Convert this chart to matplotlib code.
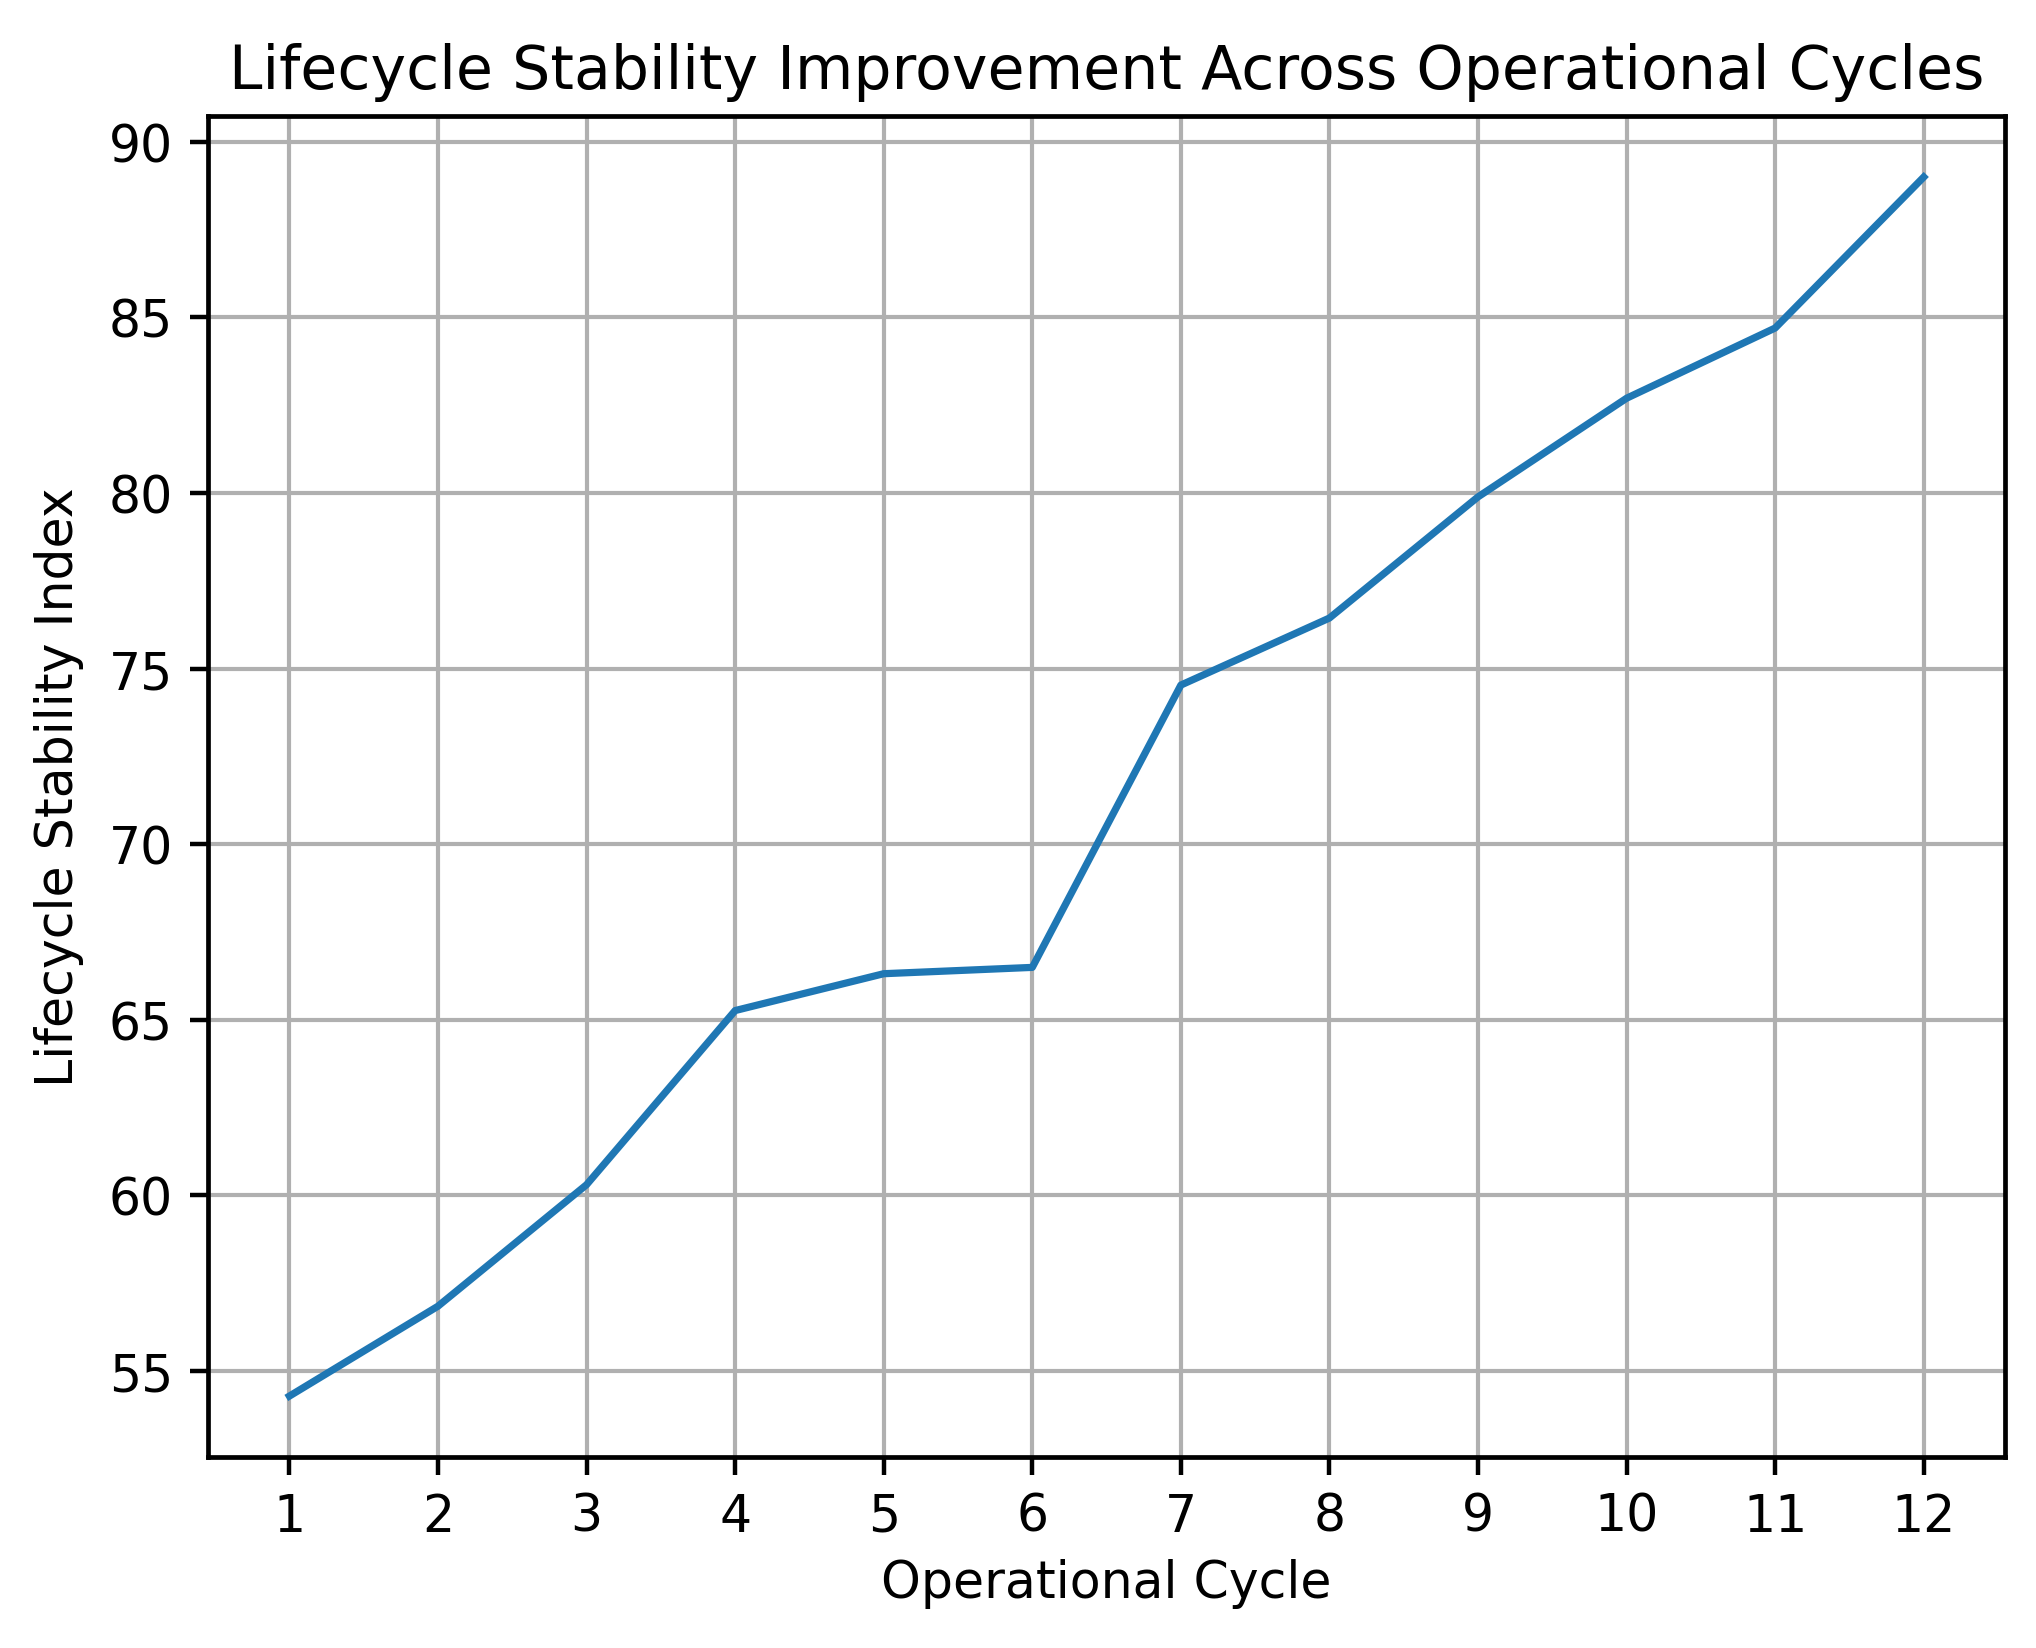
#!/usr/bin/env python3
import numpy as np
from matplotlib import pyplot as plt

# values
cycles = [1, 2, 3, 4, 5, 6, 7, 8, 9, 10, 11, 12]
stability_index = [54.28, 56.84, 60.30, 65.26, 66.31, 66.49, 74.53, 76.44, 79.89, 82.70, 84.70, 89.00]

title = "Lifecycle Stability Improvement Across Operational Cycles"
x_label = "Operational Cycle"
y_label = "Lifecycle Stability Index"

fig, ax = plt.subplots(figsize=(20.36, 16.49), dpi=100)
fig.subplots_adjust(left=0.102, right=0.985, top=0.929, bottom=0.1158)

ax.plot(cycles, stability_index, color="#1f77b4", linewidth=5.2)
ax.set_xticks(cycles)

ax.set_title(title, fontsize=43.3, pad=20)
ax.set_xlabel(x_label, fontsize=36.4, labelpad=12)
ax.set_ylabel(y_label, fontsize=36.4, labelpad=18)

ax.tick_params(axis="both", labelsize=36.4, length=13, width=3.2, pad=12)
ax.grid(True, color="#b0b0b0", linewidth=3.0)
for spine in ax.spines.values():
	spine.set_linewidth(3.4)

plt.savefig("out.png", dpi=100)
plt.close()
